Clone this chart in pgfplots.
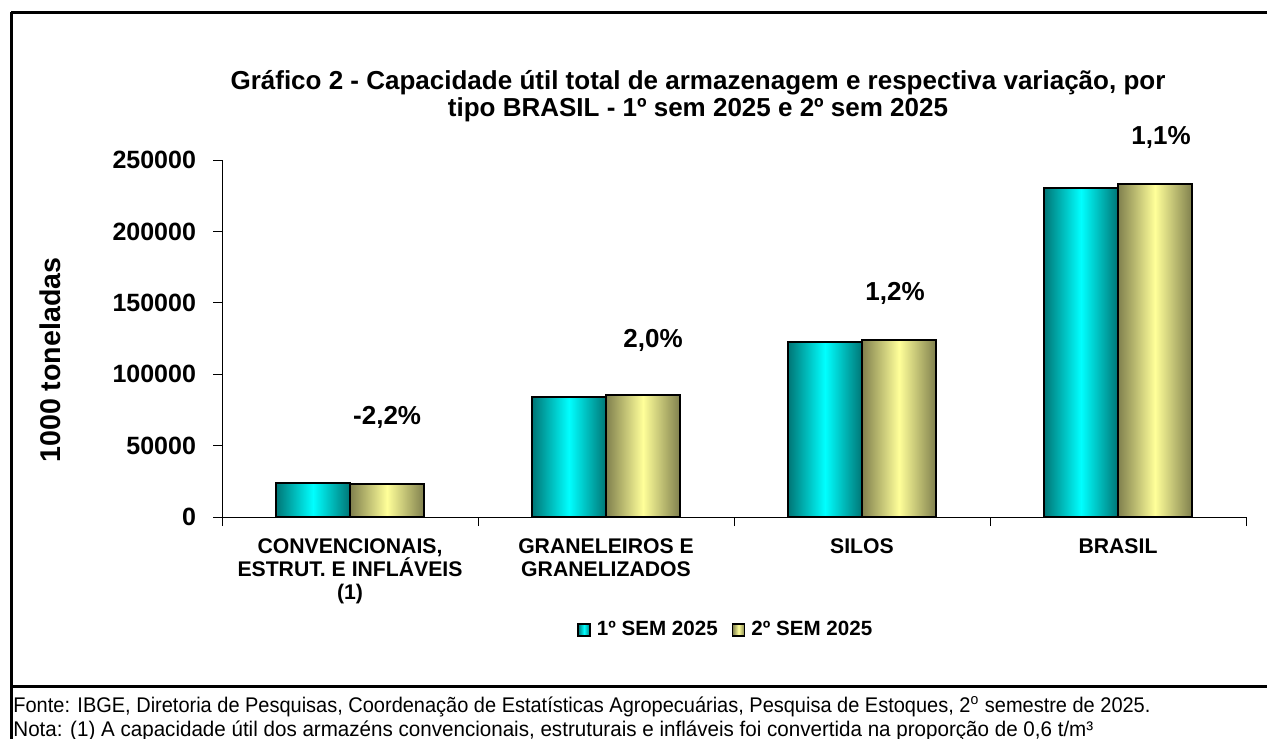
\documentclass[border=0pt]{standalone}
\usepackage{fontspec}
\setmainfont{Liberation Sans}
\usepackage{pgfplots}
\pgfplotsset{compat=1.18}
\usepackage{graphicx}
\definecolor{cyanD}{RGB}{0,118,118}
\definecolor{cyanL}{RGB}{0,255,255}
\definecolor{oliveD}{RGB}{128,128,78}
\definecolor{oliveL}{RGB}{255,255,153}
\pgfplotsset{
  semA/.style={ybar, bar width=37pt, bar shift=-18.5pt, draw=black, line width=1pt,
    left color=cyanD, right color=cyanD, middle color=cyanL, forget plot},
  semB/.style={ybar, bar width=37pt, bar shift=18.5pt, draw=black, line width=1pt,
    left color=oliveD, right color=oliveD, middle color=oliveL, forget plot},
}
\begin{document}
\begin{tikzpicture}
\path[use as bounding box] (0,0) rectangle (633.5pt,-369pt);
\clip (0,0) rectangle (633.5pt,-369pt);
\begin{scope}[x=0.5pt,y=-0.5pt]
\draw[line width=1.5pt] (11,13) -- (1275,13);
\draw[line width=1.5pt] (11,12.25) -- (11,760);
\draw[line width=1.5pt] (11,686) -- (1275,686);
\node[font=\fontsize{13}{13.5}\selectfont\bfseries, align=center] at (698,96)
  {Gráfico 2 - Capacidade útil total de armazenagem e respectiva variação, por\\tipo BRASIL - 1º sem 2025 e 2º sem 2025};
\node[rotate=90, font=\fontsize{14.3}{14.3}\selectfont\bfseries] at (50,360) {1000 toneladas};
\node[anchor=base west, inner sep=0pt] at (13,712)
  {\resizebox{568.5pt}{\height}{\fontsize{10.6}{12}\selectfont Fonte: IBGE, Diretoria de Pesquisas, Coordenação de Estatísticas Agropecuárias, Pesquisa de Estoques, 2\textsuperscript{o} semestre de 2025.}};
\node[anchor=base west, inner sep=0pt] at (13,736.5)
  {\resizebox{540pt}{\height}{\fontsize{10.6}{12}\selectfont Nota: (1) A capacidade útil dos armazéns convencionais, estruturais e infláveis foi convertida na proporção de 0,6 t/m³}};
\end{scope}
\begin{axis}[
  at={(111pt,-258.5pt)}, anchor=south west,
  scale only axis, width=512pt, height=178.5pt,
  xmin=-0.5, xmax=3.5, ymin=0, ymax=250000,
  axis lines=left, axis line style={-, line width=0.5pt},
  tick align=outside, major tick length=4.5pt,
  tick style={line width=0.5pt, black},
  xtick={-0.5,0.5,1.5,2.5,3.5},
  x tick label as interval,
  xticklabels={{CONVENCIONAIS,\\ESTRUT. E INFLÁVEIS\\(1)},{GRANELEIROS E\\GRANELIZADOS},SILOS,BRASIL},
  xticklabel style={font=\fontsize{10.6}{11.5}\selectfont\bfseries, align=center, anchor=north, yshift=-3pt},
  ytick={0,50000,100000,150000,200000,250000},
  yticklabels={0,50000,100000,150000,200000,250000},
  yticklabel style={font=\fontsize{12.5}{14}\selectfont\bfseries, xshift=-5pt},
  scaled y ticks=false,
  clip=false,
  legend style={draw=none, at={(0.493,-0.3165)}, anchor=center, legend columns=2,
    font=\fontsize{10.3}{12}\selectfont\bfseries,
    /tikz/every odd column/.append style={column sep=1pt},
    /tikz/every even column/.append style={column sep=5pt}},
  legend image code/.code={\draw[#1, line width=0.8pt] (0pt,-3pt) rectangle (6pt,3pt);},
]
\addlegendimage{draw=black, left color=cyanD, right color=cyanD, middle color=cyanL}
\addlegendentry{1º SEM 2025}
\addlegendimage{draw=black, left color=oliveD, right color=oliveD, middle color=oliveL}
\addlegendentry{2º SEM 2025}
\addplot[semA] coordinates {(0,23700)};
\addplot[semA] coordinates {(1,84000)};
\addplot[semA] coordinates {(2,122500)};
\addplot[semA] coordinates {(3,230600)};
\addplot[semB] coordinates {(0,23180)};
\addplot[semB] coordinates {(1,85700)};
\addplot[semB] coordinates {(2,124000)};
\addplot[semB] coordinates {(3,233200)};
\node[font=\fontsize{13}{13}\selectfont\bfseries] at (axis cs:0.145,70000) {-2,2\%};
\node[font=\fontsize{13}{13}\selectfont\bfseries] at (axis cs:1.184,124000) {2,0\%};
\node[font=\fontsize{13}{13}\selectfont\bfseries] at (axis cs:2.129,156900) {1,2\%};
\node[font=\fontsize{13}{13}\selectfont\bfseries] at (axis cs:3.168,266100) {1,1\%};
\end{axis}
\end{tikzpicture}
\end{document}
